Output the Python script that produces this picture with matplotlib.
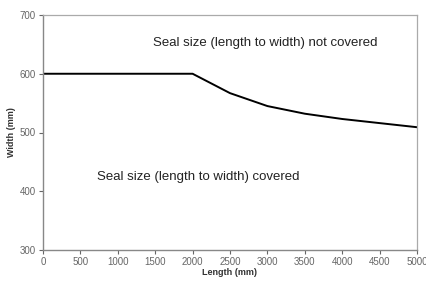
import matplotlib
matplotlib.use("Agg")
import matplotlib.pyplot as plt

length_mm = [0, 500, 1000, 1500, 2000, 2500, 3000, 3500, 4000, 4500, 5000]
width_mm = [600, 600, 600, 600, 600, 567, 545, 532, 523, 516, 509]
x_ticks = [0, 500, 1000, 1500, 2000, 2500, 3000, 3500, 4000, 4500, 5000]
y_ticks = [300, 400, 500, 600, 700]

plt.rcParams['font.family'] = ['Liberation Sans', 'DejaVu Sans']

fig = plt.figure(figsize=(4.27, 2.82), dpi=100)
ax = fig.add_axes([43/427, 1-250/282, (417-43)/427, (250-15)/282])
ax.plot(length_mm, width_mm, color='black', lw=1.4)
ax.set_xlim(0, 5000)
ax.set_ylim(300, 700)
ax.set_xticks(x_ticks)
ax.set_yticks(y_ticks)
ax.tick_params(axis='both', labelsize=7, colors='#666666', length=3, width=0.8, pad=2, direction='out')
for s in ['left', 'bottom']:
    ax.spines[s].set_color('#888888')
    ax.spines[s].set_linewidth(1.0)
for s in ['top', 'right']:
    ax.spines[s].set_color('#aaaaaa')
    ax.spines[s].set_linewidth(0.9)
ax.set_xlabel('Length (mm)', fontsize=6.5, fontweight='bold', color='#333333', labelpad=1)
ax.set_ylabel('Width (mm)', fontsize=6.5, fontweight='bold', color='#333333', labelpad=3)
ax.text(2975, 653, 'Seal size (length to width) not covered', fontsize=9.5, ha='center', va='center', color='#222222')
ax.text(2070, 424, 'Seal size (length to width) covered', fontsize=9.5, ha='center', va='center', color='#222222')
fig.savefig('out.png', dpi=100)
